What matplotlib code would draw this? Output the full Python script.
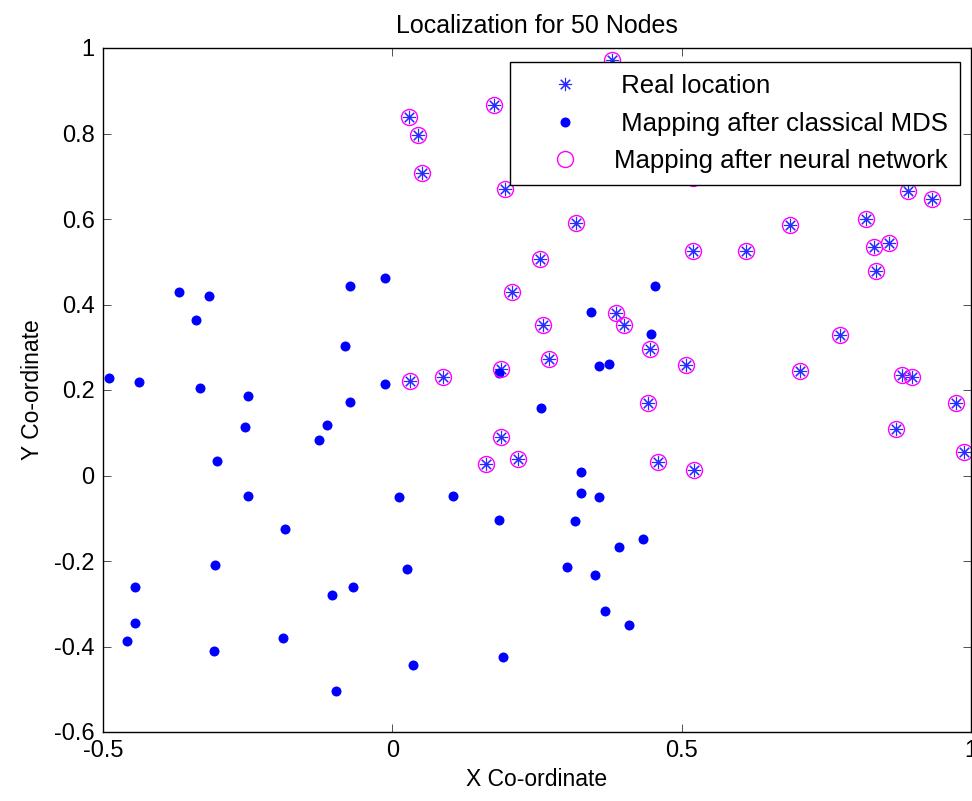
#!/usr/bin/env python3
"""Localization for 50 nodes: real positions vs classical MDS vs neural network mapping."""
import matplotlib

matplotlib.use("Agg")

import matplotlib.pyplot as plt  # noqa: E402
from matplotlib.ticker import FormatStrFormatter  # noqa: E402

# real node locations (some are hidden behind the legend)
REAL_X = [0.028, 0.045, 0.052, 0.176, 0.195, 0.380, 0.318, 0.256, 0.207, 0.520,
          0.891, 0.933, 0.687, 0.819, 0.832, 0.859, 0.836, 0.520, 0.611, 0.260,
          0.387, 0.401, 0.446, 0.270, 0.187, 0.031, 0.087, 0.442, 0.187, 0.162,
          0.218, 0.459, 0.508, 0.705, 0.774, 0.880, 0.898, 0.974, 0.870, 0.988,
          0.522]
REAL_Y = [0.838, 0.796, 0.707, 0.866, 0.670, 0.973, 0.590, 0.506, 0.429, 0.696,
          0.665, 0.646, 0.586, 0.599, 0.534, 0.543, 0.478, 0.525, 0.525, 0.352,
          0.380, 0.352, 0.296, 0.272, 0.250, 0.222, 0.231, 0.170, 0.091, 0.026,
          0.039, 0.031, 0.259, 0.245, 0.329, 0.236, 0.231, 0.170, 0.109, 0.054,
          0.012]

# classical MDS mapping
MDS_X = [-0.368, -0.316, -0.340, -0.074, -0.012, -0.081, -0.489, -0.437, -0.333, -0.250,
         -0.012, -0.074, -0.254, -0.113, -0.126, -0.303, -0.250, 0.012, -0.185, -0.306,
         -0.444, -0.105, -0.068, -0.444, -0.458, -0.189, -0.309, -0.098, 0.185, 0.316,
         0.392, 0.433, 0.026, 0.302, 0.351, 0.368, 0.409, 0.036, 0.192, 0.454,
         0.343, 0.447, 0.358, 0.375, 0.185, 0.257, 0.326, 0.105, 0.326, 0.358]
MDS_Y = [0.429, 0.420, 0.364, 0.443, 0.463, 0.303, 0.228, 0.219, 0.205, 0.187,
         0.214, 0.173, 0.113, 0.117, 0.084, 0.033, -0.047, -0.051, -0.126, -0.210,
         -0.261, -0.280, -0.261, -0.346, -0.387, -0.381, -0.411, -0.503, -0.103, -0.107,
         -0.167, -0.149, -0.219, -0.214, -0.233, -0.317, -0.350, -0.443, -0.424, 0.443,
         0.383, 0.331, 0.257, 0.261, 0.240, 0.159, 0.009, -0.047, -0.041, -0.051]

# neural network mapping lands on the real positions
NN_X = list(REAL_X)
NN_Y = list(REAL_Y)

X_TICKS = [-0.5, 0, 0.5, 1]
Y_TICKS = [-0.6, -0.4, -0.2, 0, 0.2, 0.4, 0.6, 0.8, 1]

plt.rcParams["font.family"] = ["Liberation Sans", "DejaVu Sans"]
plt.rcParams["axes.unicode_minus"] = False


def main() -> int:
    fig = plt.figure(figsize=(9.72, 8.01), dpi=100)
    ax = fig.add_axes([103 / 972, 69 / 801, 868 / 972, 684 / 801])

    ax.plot(REAL_X, REAL_Y, ls="none", marker=(8, 2, 0), ms=9.5, mew=0.8,
            color="#2a2aff", label=" Real location")
    ax.plot(MDS_X, MDS_Y, ls="none", marker="o", ms=7.2, mew=0,
            color="blue", label=" Mapping after classical MDS")
    ax.plot(NN_X, NN_Y, ls="none", marker="o", ms=11.5, mew=1.0,
            mfc="none", mec="magenta", label="Mapping after neural network")

    ax.set_xlim(-0.5, 1)
    ax.set_ylim(-0.6, 1)
    ax.set_xticks(X_TICKS)
    ax.set_yticks(Y_TICKS)
    ax.xaxis.set_major_formatter(FormatStrFormatter("%g"))
    ax.yaxis.set_major_formatter(FormatStrFormatter("%g"))
    ax.tick_params(direction="in", length=5.8, width=0.6, top=True, right=True,
                   labelsize=17, color="0.2")
    ax.tick_params(axis="x", pad=6)
    ax.tick_params(axis="y", pad=6)
    for sp in ax.spines.values():
        sp.set_linewidth(1.0)

    ax.set_title("Localization for 50 Nodes", fontsize=18, pad=11)
    ax.set_xlabel("X Co-ordinate", fontsize=16.5)
    ax.set_ylabel("Y Co-ordinate", fontsize=16.5)
    ax.xaxis.set_label_coords(0.5, -0.052)
    ax.yaxis.set_label_coords(-0.068, 0.5)

    leg = ax.legend(loc="upper right", bbox_to_anchor=(0.987, 0.979),
                    fontsize=18.5, frameon=True, fancybox=False, framealpha=1,
                    edgecolor="black", borderpad=0.45, labelspacing=0.53,
                    handlelength=3.4, handletextpad=0.2, borderaxespad=0)
    leg.get_frame().set_linewidth(1.0)
    leg.set_zorder(5)

    fig.savefig("out.png", dpi=100)
    plt.close(fig)
    return 0


if __name__ == "__main__":
    raise SystemExit(main())
